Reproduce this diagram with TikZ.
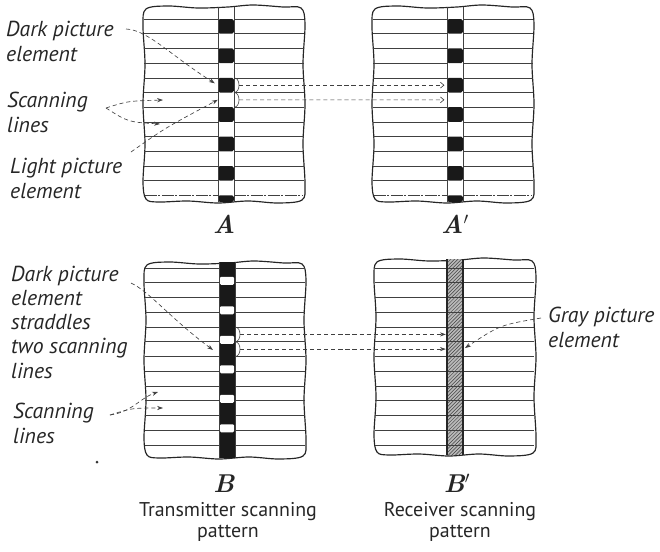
\documentclass[tikz,border=0pt]{standalone}
\usepackage{fontspec}
\setmainfont{PT Sans}
\newfontfamily\letterfont{Latin Modern Roman}
\usetikzlibrary{arrows.meta,patterns}

\tikzset{
  frameline/.style={line width=1pt, black!85, line join=round},
  scanline/.style={line width=0.5pt, black!75},
  lastline/.style={scanline, dash pattern=on 10pt off 1.5pt on 1.5pt off 1.5pt},
  darkcell/.style={fill=black!90, rounded corners=1.5pt, minimum width=0.48cm, minimum height=0.441cm, inner sep=0pt},
  lightcell/.style={minimum width=0.48cm, minimum height=0.441cm, inner sep=0pt},
  gapcell/.style={fill=white, rounded corners=1pt, minimum width=0.42cm, minimum height=0.24cm, inner sep=0pt},
  leader/.style={black!75, line width=0.55pt, dash pattern=on 3.5pt off 2.5pt, -{Stealth[length=5pt,width=3.5pt]}},
  chevron/.style={leader, -{Straight Barb[length=3pt,width=5pt]}},
  sidetext/.style={font=\fontsize{18.5}{20.5}\selectfont\itshape, text=black!85, align=left, inner sep=0pt, anchor=base west},
  captext/.style={font=\fontsize{17}{17.5}\selectfont, text=black!85, align=center, inner sep=0pt, anchor=base},
  panelname/.style={font=\letterfont\fontsize{22}{24}\selectfont\bfseries\itshape, text=black!85, inner sep=0pt, anchor=base},
  scanframe/.pic={
    \draw[frameline] plot[smooth cycle, tension=0.55] coordinates {
      (3,-5) (25,-2) (55,-4) (85,-3) (110,-1) (140,-3) (158,-4)
      (162,-20) (160,-60) (162,-100) (160,-140) (162,-180) (159,-196)
      (135,-199) (105,-197) (75,-199) (45,-197) (15,-198) (3,-195)
      (0,-178) (2,-140) (0,-100) (2,-60) (0,-22)};
  }
}

\begin{document}
\begin{tikzpicture}[x=0.03cm, y=0.03cm]
  \useasboundingbox (0,0) rectangle (660,-552);

  % A and A' : same pattern, one picture element per line
  \foreach \dx/\p in {0/A,229/Ap} {
    \begin{scope}[shift={(\dx,0)}]
      \pic at (143,-4) {scanframe};
      \foreach \k in {0,...,11}
        \draw[scanline] (144,{-19-14.7*\k}) -- (218,{-19-14.7*\k}) (234,{-19-14.7*\k}) -- (304,{-19-14.7*\k});
      \draw[lastline] (145,-195.4) -- (218,-195.4) (234,-195.4) -- (303,-195.4);
      \foreach \k in {0,2,...,10}
        \node[darkcell] (\p\k) at (226,{-26.35-14.7*\k}) {};
      \foreach \k in {1,3,...,11}
        \node[lightcell] (\p\k) at (226,{-26.35-14.7*\k}) {};
      \fill[black!90, rounded corners=1.5pt] (218,-195.4) rectangle (234,-202);
      \draw[scanline] (218,-7) -- (218,-202) (234,-7) -- (234,-202);
    \end{scope}
  }

  % B : elements straddle two lines
  \pic at (144,-260) {scanframe};
  \fill[black!90] (219,-262) rectangle (235,-458);
  \foreach \k in {0,...,5}
    \node[gapcell] (Bw\k) at (227,{-280.75-29.5*\k}) {};
  \foreach \k in {0,...,12}
    \draw[scanline] (145,{-268-14.75*\k}) -- (219,{-268-14.75*\k}) (235,{-268-14.75*\k}) -- (305,{-268-14.75*\k});
  \draw[scanline] (219,-262) -- (219,-458) (235,-262) -- (235,-458);

  % B' : gray column
  \pic at (374,-257) {scanframe};
  \fill[gray!55] (447,-259) rectangle (463,-455);
  \fill[pattern=north east lines, pattern color=black!75] (447,-259) rectangle (463,-455);
  \foreach \k in {0,...,12}
    \draw[scanline] (375,{-268-14.75*\k}) -- (534,{-268-14.75*\k});
  \draw[line width=1pt, black!85] (447,-259) -- (447,-455) (463,-259) -- (463,-455);

  % brackets on the scanned elements
  \draw[scanline] (234,-77.8) to[out=0,in=90] (239,-85.15) to[out=-90,in=0] (234,-92.5);
  \draw[scanline] (234,-92.5) to[out=0,in=90] (239,-99.85) to[out=-90,in=0] (234,-107.2);
  \draw[scanline] (235,-327) to[out=0,in=90] (240,-334.4) to[out=-90,in=0] (235,-341.75);
  \draw[scanline] (235,-341.75) to[out=0,in=90] (240,-349.1) to[out=-90,in=0] (235,-356.5);

  % labels (anchored on the baseline of their last line)
  \node[sidetext] (darkA) at (6,-61) {Dark picture\\element};
  \node[sidetext] (scanA) at (7,-132) {Scanning\\lines};
  \node[sidetext] (lightA) at (10,-198) {Light picture\\element};
  \node[sidetext] (darkB) at (11,-378) {Dark picture\\element\\straddles\\two scanning\\lines};
  \node[sidetext] (scanB) at (13,-443) {Scanning\\lines};
  \node[sidetext] (grayB) at (548,-347) {Gray picture\\element};

  \node[panelname] (capA) at (224,-233) {A};
  \node[panelname] (capAp) at (455,-233) {A$'$};
  \node[panelname] (capB) at (224,-492) {B};
  \node[panelname] (capBp) at (457,-492) {B$'$};
  \node[captext] (txB) at (228,-537) {Transmitter scanning\\pattern};
  \node[captext] (rxB) at (460,-537) {Receiver scanning\\pattern};

  % arrow ends
  \coordinate (darkAtail) at (126,-29);
  \coordinate (scanAtail) at (106,-108);
  \coordinate (lineA1) at (163,-100);
  \coordinate (lineA2) at (160,-124);
  \coordinate (lightAtail) at (131,-152);
  \coordinate (brA4) at (239,-85.15);
  \coordinate (brA5) at (239,-99.85);
  \coordinate (darkBtail) at (131,-283);
  \coordinate (darkBtip) at (213,-350);
  \coordinate (scanBtail) at (110,-415);
  \coordinate (lineB1) at (158,-392);
  \coordinate (lineB2) at (163,-408);
  \coordinate (brB1) at (240,-334.4);
  \coordinate (brB2) at (240,-349.1);
  \coordinate (inB1) at (447,-334.4);
  \coordinate (inB2) at (447,-349.1);
  \coordinate (grayBtail) at (541,-318);
  \coordinate (grayBtip) at (465,-348);

  \draw[leader, shorten >=3pt] (darkAtail) .. controls (148,-30) and (170,-55) .. (A4.west);
  \draw[leader] (scanAtail) .. controls (128,-101) .. (lineA1);
  \draw[leader] (scanAtail) .. controls (128,-122) .. (lineA2);
  \draw[leader] (lightAtail) .. controls (165,-128) .. (A5.west);
  \draw[chevron, shorten >=2pt] (brA4) -- (Ap4.west);
  \draw[chevron, shorten >=2pt] (brA5) -- (Ap5.west);

  \draw[leader] (darkBtail) .. controls (150,-292) and (170,-318) .. (darkBtip);
  \draw[leader] (scanBtail) .. controls (132,-412) and (140,-398) .. (lineB1);
  \draw[leader] (scanBtail) .. controls (132,-408) .. (lineB2);
  \draw[leader, shorten >=1pt] (brB1) -- (inB1);
  \draw[leader, shorten >=1pt] (brB2) -- (inB2);
  \draw[leader] (grayBtail) .. controls (500,-325) .. (grayBtip);

  \fill[black!80] (97,-462) circle (1.5);
\end{tikzpicture}
\end{document}
